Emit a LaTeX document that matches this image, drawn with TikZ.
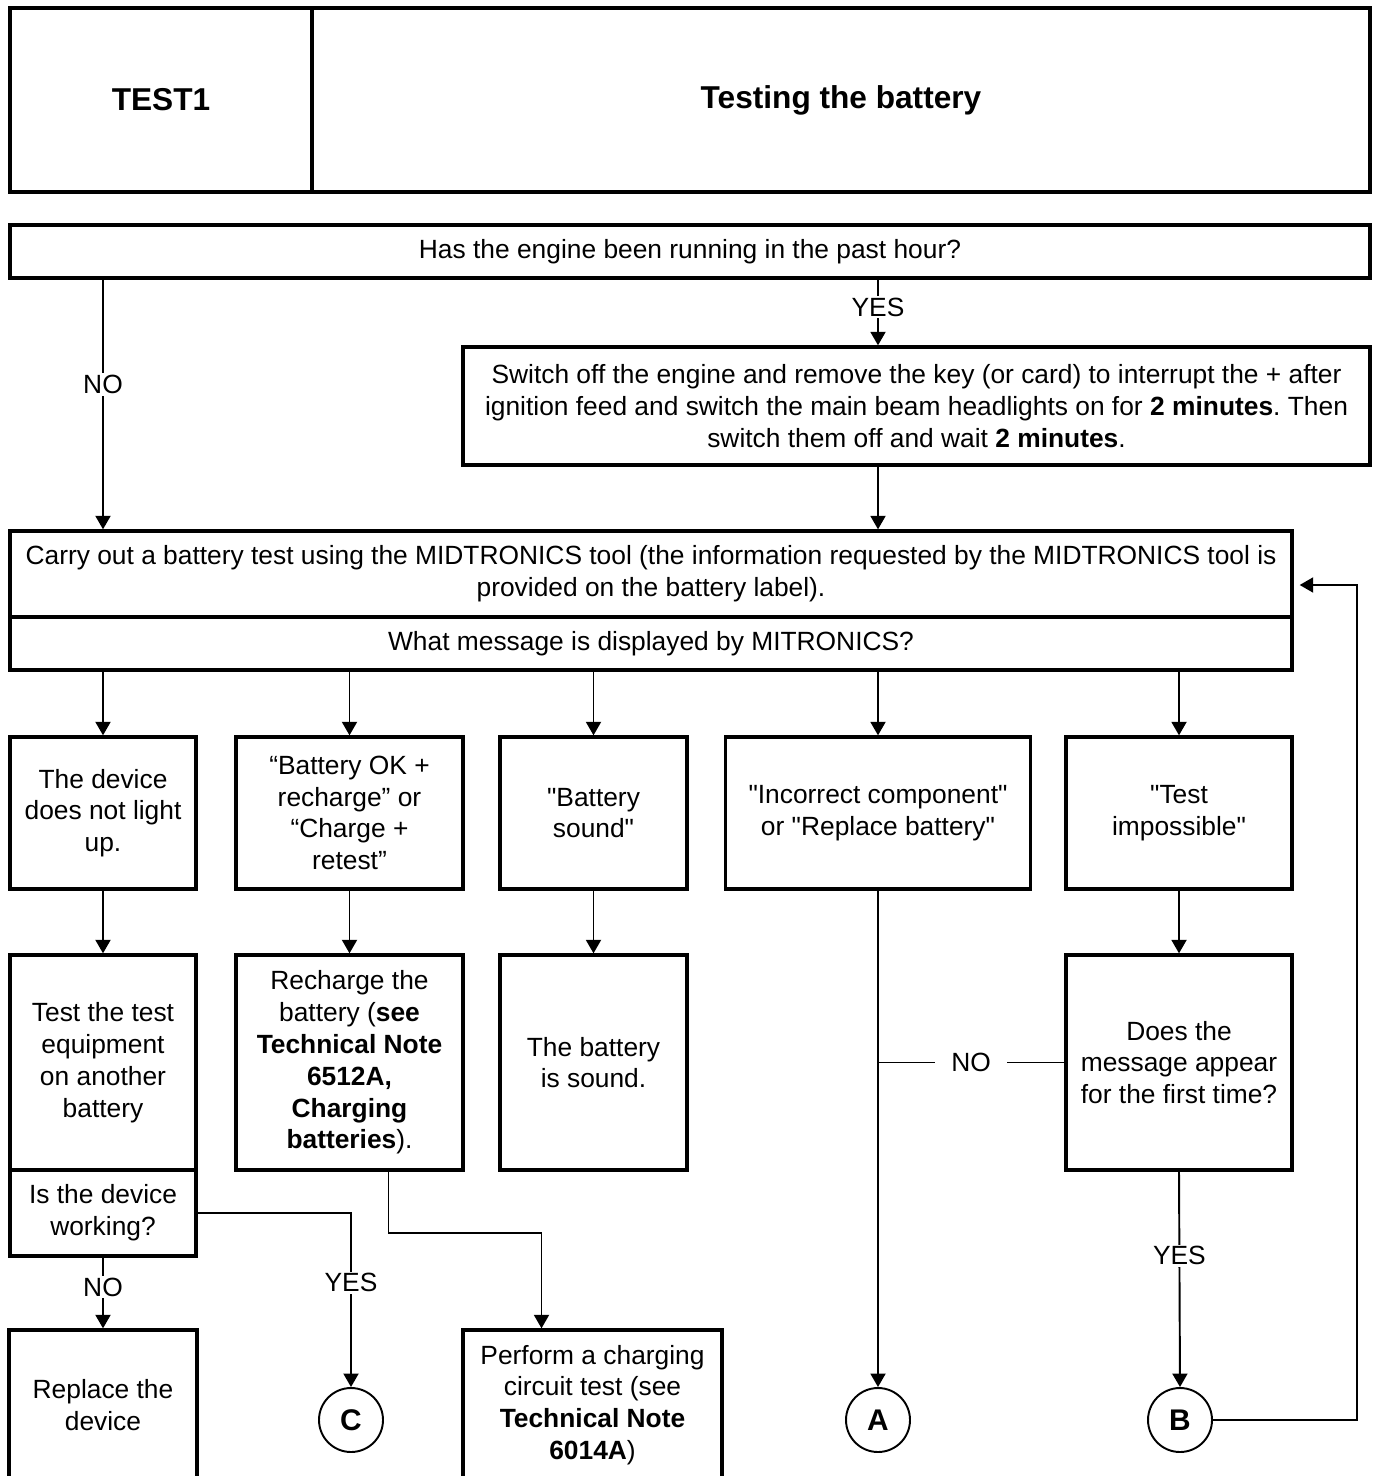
\documentclass[tikz,border=0pt]{standalone}
\usepackage{fontspec}
\setmainfont{Liberation Sans}[Ligatures=TeXOff]
\usetikzlibrary{calc,arrows.meta}
\frenchspacing

\tikzset{
	kasten/.style={draw, line width=1.9pt, align=center, inner sep=0pt, font=\fontsize{15}{18.1}\selectfont},
	groesse/.style 2 args={minimum width=#1*0.02cm, minimum height=#2*0.02cm},
	linie/.style={line width=1.1pt},
	pfeil/.style={line width=1.1pt, -{Triangle[length=0.27cm, width=0.3cm]}},
	marke/.style={fill=white, inner sep=1pt, font=\fontsize{15}{18.1}\selectfont},
	kreis/.style={draw, circle, line width=1.1pt, minimum size=64*0.02cm, inner sep=0pt, font=\fontsize{17}{20}\selectfont\bfseries}
}

\begin{document}
\begin{tikzpicture}[x=0.02cm, y=-0.02cm] % Koordinaten in Pixeln, y zeigt nach unten
		
		% Bildgrenzen
		\useasboundingbox (0,0) rectangle (1375,1476);
		\clip (0,0) rectangle (1375,1476);
		
		% Kopfzeile
		\node[kasten, groesse={302}{184}, font=\fontsize{18}{21}\selectfont\bfseries] (nummer) at (161,100) {TEST1};
		\node[kasten, groesse={1058}{184}, font=\fontsize{18}{21}\selectfont\bfseries] (titel) at (841,100) {Testing the battery};
		
		% Erste Frage und Motor abstellen
		\node[kasten, groesse={1360}{53}] (motor) at (690,251.5) {Has the engine been running in the past hour?};
		\node[kasten, groesse={907}{118}] (abstellen) at (916.5,406) {Switch off the engine and remove the key (or card) to interrupt the + after\\ ignition feed and switch the main beam headlights on for \textbf{2 minutes}. Then\\ switch them off and wait \textbf{2 minutes}.};
		
		% MIDTRONICS-Test mit Meldung
		\node[kasten, groesse={1282}{86}] (midtronics) at (651,574) {Carry out a battery test using the MIDTRONICS tool (the information requested by the MIDTRONICS tool is\\ provided on the battery label).};
		\node[kasten, groesse={1282}{53}] (meldung) at (651,643.5) {What message is displayed by MITRONICS?};
		
		% Die fünf Meldungen
		\node[kasten, groesse={186}{152}] (leuchtet) at (103,813) {The device\\ does not light\\ up.};
		\node[kasten, groesse={227}{152}] (laden) at (349.5,813) {“Battery OK +\\ recharge” or\\ “Charge +\\ retest”};
		\node[kasten, groesse={187}{152}] (gut) at (593.5,813) {"Battery\\ sound"};
		\node[kasten, groesse={305}{152}] (falsch) at (878,813) {"Incorrect component"\\ or "Replace battery"};
		\node[kasten, groesse={226}{152}] (unmoeglich) at (1179,813) {"Test\\ impossible"};
		
		% Zweite Reihe
		\node[kasten, groesse={186}{215}] (geraet) at (103,1062.5) {Test the test\\ equipment\\ on another\\ battery};
		\node[kasten, groesse={186}{86}] (funktion) at (103,1213) {Is the device\\ working?};
		\node[kasten, groesse={227}{215}] (aufladen) at (349.5,1062.5) {Recharge the\\ battery (\textbf{see}\\ \textbf{Technical Note}\\ \textbf{6512A,}\\ \textbf{Charging}\\ \textbf{batteries}).};
		\node[kasten, groesse={187}{215}] (intakt) at (593.5,1062.5) {The battery\\ is sound.};
		\node[kasten, groesse={226}{215}] (erstmals) at (1179,1062.5) {Does the\\ message appear\\ for the first time?};
		
		% Untere Reihe (unten abgeschnitten)
		\node[kasten, groesse={188}{150}] (ersetzen) at (103,1405) {Replace the\\ device};
		\node[kasten, groesse={259}{150}] (ladekreis) at (592.5,1405) {Perform a charging\\ circuit test (see\\ \textbf{Technical Note}\\ \textbf{6014A})};
		
		% Verweise
		\node[kreis] (C) at (351,1420) {C};
		\node[kreis] (A) at (878,1420) {A};
		\node[kreis] (B) at (1180,1420) {B};
		\coordinate (rueck) at (1357,585);
		
		% Verbindungen oben
		\draw[pfeil] (motor.south -| leuchtet) -- node[marke, pos=0.42] {NO} (midtronics.north -| leuchtet);
		\draw[pfeil] (motor.south -| falsch) -- node[marke, pos=0.42] {YES} (abstellen.north -| falsch);
		\draw[pfeil] (abstellen.south -| falsch) -- (midtronics.north -| falsch);
		
		% Pfeile zu den Meldungen
		\foreach \ziel in {leuchtet, laden, gut, falsch, unmoeglich} {
			\draw[pfeil] (meldung.south -| \ziel) -- (\ziel.north);
		}
		\foreach \von/\nach in {leuchtet/geraet, laden/aufladen, gut/intakt, unmoeglich/erstmals} {
			\draw[pfeil] (\von.south) -- (\nach.north);
		}
		
		% Verbindungen unten
		\draw[pfeil] (falsch.south) -- (A.north);
		\draw[linie] (erstmals.west) -- node[marke, inner xsep=0.32cm] {NO} (erstmals.west -| falsch);
		\draw[pfeil] (erstmals.south) -- node[marke, pos=0.39] {YES} (B.north);
		\draw[pfeil, shorten >=0.12cm] (B.east) -| (rueck) -- (rueck -| midtronics.east);
		\draw[pfeil] (funktion.east) -| node[marke, pos=0.7] {YES} (C.north);
		\draw[pfeil] (funktion.south) -- node[marke, pos=0.42] {NO} (ersetzen.north);
		\draw[pfeil] ($(aufladen.south)+(39,0)$) -- ++(0,61) -| ($(ladekreis.north)+(-51,0)$);
		
	\end{tikzpicture}
\end{document}
